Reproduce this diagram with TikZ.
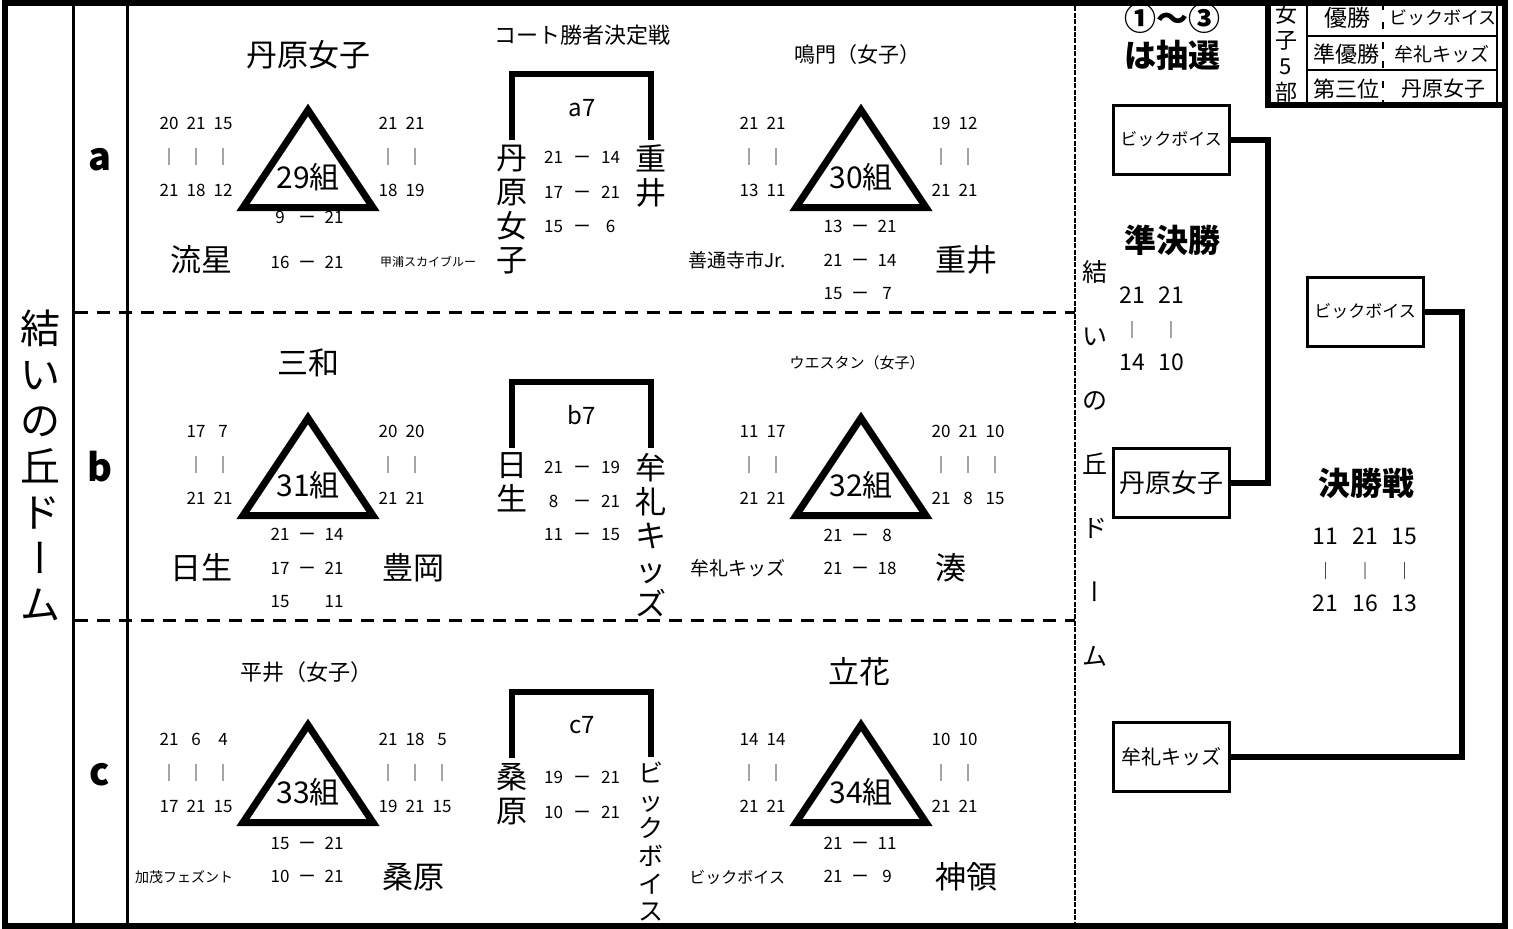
\documentclass[tikz,border=0pt]{standalone}
\usepackage{fontspec}
\setmainfont{Noto Sans CJK JP}
\newfontfamily\vjp{Noto Sans CJK JP}[RawFeature=+vert]
\usetikzlibrary{matrix,calc}

\begin{document}
\begin{tikzpicture}[x=0.5pt,y=-0.5pt,
  every node/.style={inner sep=0pt,outer sep=0pt},
  team/.style={font=\fontsize{15.5}{17}\selectfont},
  grp/.style={font=\fontsize{15}{17}\selectfont},
  sc/.style={font=\fontsize{8.5}{10}\selectfont},
  hd/.style={font=\bfseries\fontsize{16}{18}\selectfont},
  rowl/.style={font=\bfseries\fontsize{19}{21}\selectfont},
  pts/.style={matrix of nodes, nodes in empty cells,
    nodes={sc, minimum width=13.5pt, text height=6pt, text depth=1pt},
    row sep=9.75pt},
  court/.style={pts, nodes={minimum width=14.25pt}, row sep=10.25pt},
  bigpts/.style={matrix of nodes, nodes in empty cells,
    nodes={font=\fontsize{11.5}{13}\selectfont, text height=8.5pt, text depth=1pt},
    row sep=7.25pt},
  tri/.style={line width=3.5pt, line join=miter},
  brk/.style={line width=3pt},
  box/.style={draw, line width=1.5pt, minimum width=58pt, minimum height=34.5pt},
  wire/.style={line width=3pt}]
\useasboundingbox (0,0) rectangle (1513,928);

% frame and court lines
\draw[line width=1.5pt] (73.5,0) -- (73.5,928) (127.5,0) -- (127.5,928);
\draw[line width=1.5pt, dash pattern=on 6.5pt off 4.5pt] (75,312) -- (1075,312) (75,620) -- (1075,620);
\draw[line width=1.25pt, dash pattern=on 2.5pt off 0.7pt] (1075,0) -- (1075,928);
\draw[line width=3pt] (5,2.5) rectangle (1504.5,925.5);

\node[font=\fontsize{20}{23}\selectfont, align=center, anchor=north] (dome) at (40,310)
  {結\\い\\の\\丘\\ド\\{\vjp ー}\\ム};
\foreach \r/\y in {a/160, b/467, c/775}
  \node[rowl] (row\r) at (100,\y) {\r};

% groups
\foreach \cx/\cy/\g in {308/0/29, 861/0/30, 308/308/31, 861/308/32, 308/615/33, 861/615/34}{
  \draw[tri] (\cx,110+\cy) -- (\cx-65,207.5+\cy) -- (\cx+65,207.5+\cy) -- cycle;
  \node[grp] (g\g) at (\cx,177+\cy) {\g{}組};
}

% row a
\node[team] (ta29) at (308,55) {丹原女子};
\node[team, anchor=east] (la29) at (232,260) {流星};
\node[font=\fontsize{6}{7}\selectfont, anchor=west] (ra29) at (380,262) {甲浦スカイブルー};
\matrix (m29l) [pts] at (196,158) {20 & 21 & 15 \\ ｜ & ｜ & ｜ \\ 21 & 18 & 12 \\};
\matrix (m29r) [pts] at (415,158) {21 & 21 & \\ ｜ & ｜ & \\ 18 & 19 & \\};
\matrix (m29g) [pts, row sep=15.5pt] at (307,241) {9 & ー & 21 \\ 16 & ー & 21 \\};

\node[font=\fontsize{10.5}{12}\selectfont] (ta30) at (857,55) {鳴門（女子）};
\node[font=\fontsize{9.5}{11}\selectfont, anchor=east] (la30) at (786,260) {善通寺市Jr.};
\node[team, anchor=west] (ra30) at (935,260) {重井};
\matrix (m30l) [pts] at (749,158) { & 21 & 21 \\ & ｜ & ｜ \\ & 13 & 11 \\};
\matrix (m30r) [pts] at (968,158) {19 & 12 & \\ ｜ & ｜ & \\ 21 & 21 & \\};
\matrix (m30g) [pts] at (860,261) {13 & ー & 21 \\ 21 & ー & 14 \\ 15 & ー & 7 \\};

% row b
\node[team] (ta31) at (308,363) {三和};
\node[team, anchor=east] (la31) at (232,568) {日生};
\node[team, anchor=west] (ra31) at (382,568) {豊岡};
\matrix (m31l) [pts] at (196,466) { & 17 & 7 \\ & ｜ & ｜ \\ & 21 & 21 \\};
\matrix (m31r) [pts] at (415,466) {20 & 20 & \\ ｜ & ｜ & \\ 21 & 21 & \\};
\matrix (m31g) [pts] at (307,569) {21 & ー & 14 \\ 17 & ー & 21 \\ 15 & & 11 \\};

\node[font=\fontsize{7.5}{9}\selectfont] (ta32) at (857,363) {ウエスタン（女子）};
\node[font=\fontsize{9.5}{11}\selectfont, anchor=east] (la32) at (785,568) {牟礼キッズ};
\node[team, anchor=west] (ra32) at (935,568) {湊};
\matrix (m32l) [pts] at (749,466) { & 11 & 17 \\ & ｜ & ｜ \\ & 21 & 21 \\};
\matrix (m32r) [pts] at (968,466) {20 & 21 & 10 \\ ｜ & ｜ & ｜ \\ 21 & 8 & 15 \\};
\matrix (m32g) [pts] at (860,553) {21 & ー & 8 \\ 21 & ー & 18 \\};

% row c
\node[font=\fontsize{11}{13}\selectfont] (ta33) at (306,672) {平井（女子）};
\node[font=\fontsize{7}{8}\selectfont, anchor=east] (la33) at (233,877) {加茂フェズント};
\node[team, anchor=west] (ra33) at (382,877) {桑原};
\matrix (m33l) [pts] at (196,774) {21 & 6 & 4 \\ ｜ & ｜ & ｜ \\ 17 & 21 & 15 \\};
\matrix (m33r) [pts] at (415,774) {21 & 18 & 5 \\ ｜ & ｜ & ｜ \\ 19 & 21 & 15 \\};
\matrix (m33g) [pts] at (307,861) {15 & ー & 21 \\ 10 & ー & 21 \\};

\node[team] (ta34) at (859,672) {立花};
\node[font=\fontsize{8}{9}\selectfont, anchor=east] (la34) at (785,877) {ビックボイス};
\node[team, anchor=west] (ra34) at (935,877) {神領};
\matrix (m34l) [pts] at (749,774) { & 14 & 14 \\ & ｜ & ｜ \\ & 21 & 21 \\};
\matrix (m34r) [pts] at (968,774) {10 & 10 & \\ ｜ & ｜ & \\ 21 & 21 & \\};
\matrix (m34g) [pts] at (860,861) {21 & ー & 11 \\ 21 & ー & 9 \\};

% court winners
\node[font=\fontsize{11}{13}\selectfont] (cwin) at (582,35) {コート勝者決定戦};
\node[font=\fontsize{12}{14}\selectfont] (a7) at (582,108) {a7};
\node[team, align=center, anchor=north] (ca1) at (512,145) {丹\\原\\女\\子};
\node[team, align=center, anchor=north] (ca2) at (651,145) {重\\井};
\matrix (mca) [court] at (582,193) {21 & ー & 14 \\ 17 & ー & 21 \\ 15 & ー & 6 \\};
\draw[brk] ([yshift=2.5pt]ca1.north) -- ++(0,-66) -| ([yshift=2.5pt]ca2.north);

\node[font=\fontsize{12}{14}\selectfont] (b7) at (582,415) {b7};
\node[team, align=center, anchor=north] (cb1) at (512,453) {日\\生};
\node[team, align=center, anchor=north] (cb2) at (651,453) {牟\\礼\\キ\\ッ\\ズ};
\matrix (mcb) [court, row sep=9.75pt] at (582,502) {21 & ー & 19 \\ 8 & ー & 21 \\ 11 & ー & 15 \\};
\draw[brk] ([yshift=2.5pt]cb1.north) -- ++(0,-66) -| ([yshift=2.5pt]cb2.north);

\node[font=\fontsize{12}{14}\selectfont] (c7) at (582,725) {c7};
\node[team, align=center, anchor=north] (cc1) at (512,763) {桑\\原};
\node[font=\fontsize{12.5}{13.8}\selectfont, align=center, anchor=north] (cc2) at (651,762) {ビ\\ッ\\ク\\ボ\\イ\\ス};
\matrix (mcc) [court] at (582,796) {19 & ー & 21 \\ 10 & ー & 21 \\};
\draw[brk] ([yshift=2.5pt]cc1.north) -- ++(0,-66) -| ([yshift=2.5pt]cc2.north);

% finals
\node[hd] (lot1) at (1172,18) {①～③};
\node[hd] (lot2) at (1172,55) {は抽選};
\node[font=\fontsize{12.5}{32}\selectfont, align=center, anchor=north] (dome2) at (1095,260)
  {結\\い\\の\\丘\\ド\\{\vjp ー}\\ム};
\node[hd] (semi) at (1172,240) {準決勝};
\matrix (msf) [bigpts, nodes={minimum width=19.5pt}] at (1151.5,329) {21 & 21 \\ |[sc]|｜ & |[sc]|｜ \\ 14 & 10 \\};
\node[hd] (fin) at (1366,483) {決勝戦};
\matrix (mfn) [bigpts, nodes={minimum width=19.75pt}] at (1365,570) {11 & 21 & 15 \\ |[sc]|｜ & |[sc]|｜ & |[sc]|｜ \\ 21 & 16 & 13 \\};

\node[box, font=\fontsize{8.5}{10}\selectfont] (sf1) at (1171,139.5) {ビックボイス};
\node[box, font=\fontsize{13}{15}\selectfont] (sf2) at (1171,482.5) {丹原女子};
\node[box, font=\fontsize{8.5}{10}\selectfont] (fn1) at (1365,311.5) {ビックボイス};
\node[box, font=\fontsize{10}{12}\selectfont] (fn2) at (1171,756.5) {牟礼キッズ};
\draw[wire] (sf1.east) -- ++(39,0) |- (sf2.east);
\draw[wire] (fn1.east) -- ++(39,0) |- (fn2.east);

% results table
\draw[line width=1.2pt] (1307,0) -- (1307,103) (1307,36) -- (1497,36) (1307,70) -- (1497,70) (1497,0) -- (1497,103);
\draw[line width=1pt, dash pattern=on 3.5pt off 6.25pt, dash phase=8.5pt] (1383,0) -- (1383,103);
\draw[line width=3pt] (1267.5,0) -- (1267.5,105) -- (1504,105);
\node[font=\fontsize{11}{13}\selectfont, align=center, anchor=north] (div) at (1286,4) {女\\子\\5\\部};
\node[font=\fontsize{11.5}{13}\selectfont] (p1) at (1347,18) {優勝};
\node[font=\fontsize{9}{11}\selectfont] (w1) at (1443,18) {ビックボイス};
\node[font=\fontsize{11}{13}\selectfont] (p2) at (1346,54) {準優勝};
\node[font=\fontsize{9.5}{11}\selectfont] (w2) at (1442,54) {牟礼キッズ};
\node[font=\fontsize{11}{13}\selectfont] (p3) at (1346,89) {第三位};
\node[font=\fontsize{10.5}{12}\selectfont] (w3) at (1443,89) {丹原女子};
\end{tikzpicture}
\end{document}
